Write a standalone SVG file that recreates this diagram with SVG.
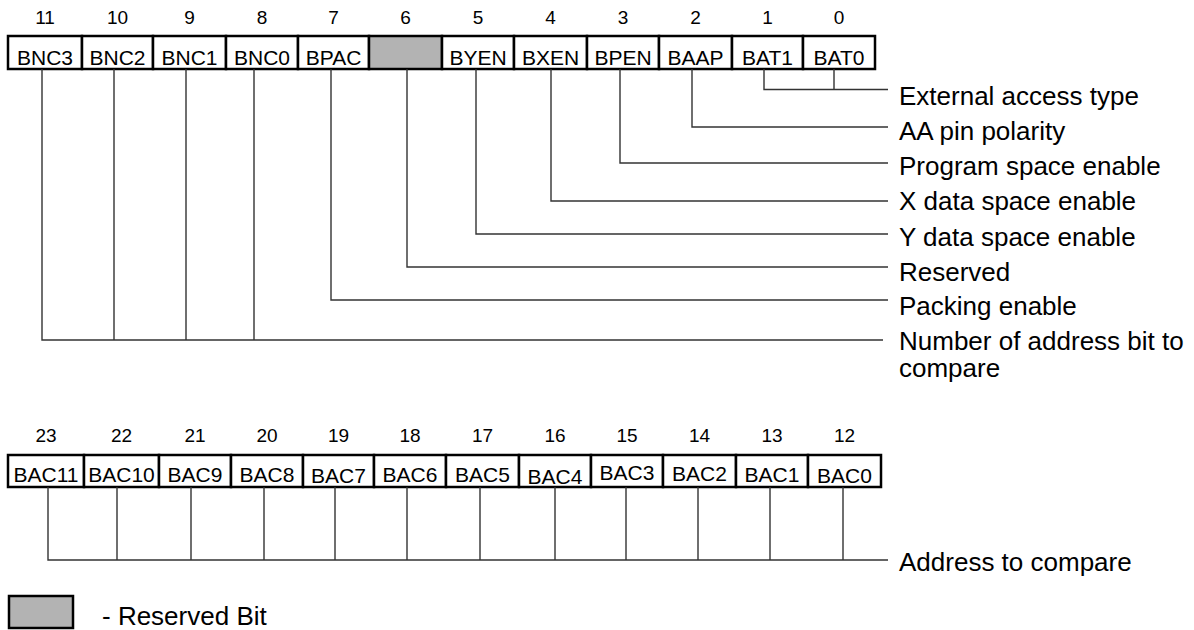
<svg xmlns="http://www.w3.org/2000/svg" width="1194" height="630" viewBox="0 0 1194 630">
<style>
.cell{fill:#fff;stroke:#000;stroke-width:2.5}
.res{fill:#b3b3b3;stroke:#000;stroke-width:2.5}
.ct{font-family:"Liberation Sans",Arial,sans-serif;font-size:21px;fill:#000;text-anchor:middle}
.bn{font-family:"Liberation Sans",Arial,sans-serif;font-size:19px;fill:#000;text-anchor:middle}
.lb{font-family:"Liberation Sans",Arial,sans-serif;font-size:26px;fill:#000}
.ln{fill:none;stroke:#333;stroke-width:1.4}
</style>
<rect width="1194" height="630" fill="#fff"/>
<g id="reg-low">
<g id="b11"><rect class="cell" x="8" y="36" width="74" height="33"/><text class="ct" x="45" y="65">BNC3</text><text class="bn" x="45" y="24">11</text></g>
<g id="b10"><rect class="cell" x="82" y="36" width="71" height="33"/><text class="ct" x="117.5" y="65">BNC2</text><text class="bn" x="117.5" y="24">10</text></g>
<g id="b9"><rect class="cell" x="153" y="36" width="73" height="33"/><text class="ct" x="189.5" y="65">BNC1</text><text class="bn" x="189.5" y="24">9</text></g>
<g id="b8"><rect class="cell" x="226" y="36" width="72" height="33"/><text class="ct" x="262" y="65">BNC0</text><text class="bn" x="262" y="24">8</text></g>
<g id="b7"><rect class="cell" x="298" y="36" width="71" height="33"/><text class="ct" x="333.5" y="65">BPAC</text><text class="bn" x="333.5" y="24">7</text></g>
<g id="b6"><rect class="res" x="369" y="36" width="73" height="33"/><text class="bn" x="405.5" y="24">6</text></g>
<g id="b5"><rect class="cell" x="442" y="36" width="72" height="33"/><text class="ct" x="478" y="65">BYEN</text><text class="bn" x="478" y="24">5</text></g>
<g id="b4"><rect class="cell" x="514" y="36" width="73" height="33"/><text class="ct" x="550.5" y="65">BXEN</text><text class="bn" x="550.5" y="24">4</text></g>
<g id="b3"><rect class="cell" x="587" y="36" width="72" height="33"/><text class="ct" x="623" y="65">BPEN</text><text class="bn" x="623" y="24">3</text></g>
<g id="b2"><rect class="cell" x="659" y="36" width="73" height="33"/><text class="ct" x="695.5" y="65">BAAP</text><text class="bn" x="695.5" y="24">2</text></g>
<g id="b1"><rect class="cell" x="732" y="36" width="71" height="33"/><text class="ct" x="767.5" y="65">BAT1</text><text class="bn" x="767.5" y="24">1</text></g>
<g id="b0"><rect class="cell" x="803" y="36" width="72" height="33"/><text class="ct" x="839" y="65">BAT0</text><text class="bn" x="839" y="24">0</text></g>
</g>
<g id="reg-high">
<g id="b23"><rect class="cell" x="8" y="455" width="76" height="32"/><text class="ct" x="46" y="482">BAC11</text><text class="bn" x="46" y="442">23</text></g>
<g id="b22"><rect class="cell" x="84" y="455" width="75" height="32"/><text class="ct" x="121.5" y="482">BAC10</text><text class="bn" x="121.5" y="442">22</text></g>
<g id="b21"><rect class="cell" x="159" y="455" width="72" height="32"/><text class="ct" x="195" y="482">BAC9</text><text class="bn" x="195" y="442">21</text></g>
<g id="b20"><rect class="cell" x="231" y="455" width="72" height="32"/><text class="ct" x="267" y="482">BAC8</text><text class="bn" x="267" y="442">20</text></g>
<g id="b19"><rect class="cell" x="303" y="455" width="71" height="32"/><text class="ct" x="338.5" y="483">BAC7</text><text class="bn" x="338.5" y="442">19</text></g>
<g id="b18"><rect class="cell" x="374" y="455" width="72" height="32"/><text class="ct" x="410" y="482">BAC6</text><text class="bn" x="410" y="442">18</text></g>
<g id="b17"><rect class="cell" x="446" y="455" width="73" height="32"/><text class="ct" x="482.5" y="482">BAC5</text><text class="bn" x="482.5" y="442">17</text></g>
<g id="b16"><rect class="cell" x="519" y="455" width="72" height="32"/><text class="ct" x="555" y="484">BAC4</text><text class="bn" x="555" y="442">16</text></g>
<g id="b15"><rect class="cell" x="591" y="455" width="72" height="32"/><text class="ct" x="627" y="480">BAC3</text><text class="bn" x="627" y="442">15</text></g>
<g id="b14"><rect class="cell" x="663" y="455" width="73" height="32"/><text class="ct" x="699.5" y="481">BAC2</text><text class="bn" x="699.5" y="442">14</text></g>
<g id="b13"><rect class="cell" x="736" y="455" width="72" height="32"/><text class="ct" x="772" y="482">BAC1</text><text class="bn" x="772" y="442">13</text></g>
<g id="b12"><rect class="cell" x="808" y="455" width="73" height="32"/><text class="ct" x="844.5" y="483">BAC0</text><text class="bn" x="844.5" y="442">12</text></g>
</g>
<g id="connectors">
<path class="ln" d="M764 69V89.5H888M834 69V89.5"/>
<path class="ln" d="M692 69V127H888"/>
<path class="ln" d="M620 69V163H888"/>
<path class="ln" d="M551 69V201H888"/>
<path class="ln" d="M476 69V234H888"/>
<path class="ln" d="M407 69V267H888"/>
<path class="ln" d="M331 69V300H888"/>
<path class="ln" d="M42 69V340H883M114 69V340M186 69V340M254 69V340"/>
<path class="ln" d="M48 487V560H888M117 487V560M191 487V560M264 487V560M335 487V560M407 487V560M480 487V560M555 487V560M626 487V560M698 487V560M770 487V560M843 487V560"/>
</g>
<g id="labels">
<text class="lb" x="899" y="105">External access type</text>
<text class="lb" x="899" y="140">AA pin polarity</text>
<text class="lb" x="899" y="175">Program space enable</text>
<text class="lb" x="899" y="210">X data space enable</text>
<text class="lb" x="899" y="246">Y data space enable</text>
<text class="lb" x="899" y="281">Reserved</text>
<text class="lb" x="899" y="315">Packing enable</text>
<text class="lb" x="899" y="350">Number of address bit to<tspan x="899" dy="27">compare</tspan></text>
<text class="lb" x="899" y="571">Address to compare</text>
</g>
<g id="legend">
<rect class="res" x="9" y="596" width="64" height="32"/>
<text class="lb" x="102" y="625">- Reserved Bit</text>
</g>
</svg>
